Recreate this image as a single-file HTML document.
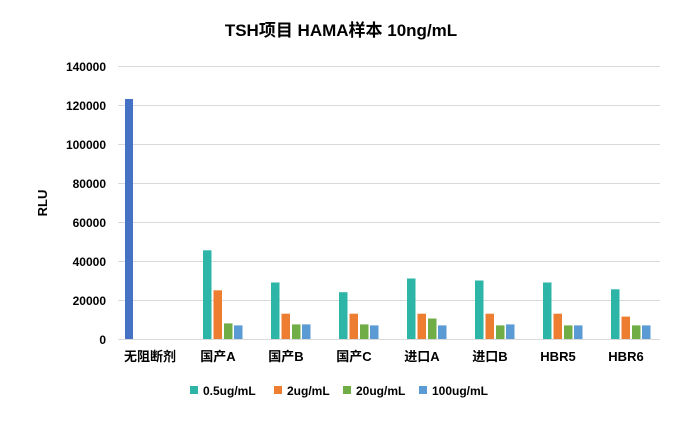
<!DOCTYPE html>
<html><head><meta charset="utf-8"><style>body{margin:0;background:#fff}svg{display:block}text{font-family:"Liberation Sans","Noto Sans CJK SC",sans-serif;fill:#000}</style></head><body>
<svg width="683" height="422" xmlns="http://www.w3.org/2000/svg">
<text x="341" y="36" font-size="17" font-weight="bold" text-anchor="middle">TSH项目 HAMA样本 10ng/mL</text>
<g stroke="#d9d9d9" stroke-width="1">
<line x1="118" x2="660" y1="339.5" y2="339.5"/><line x1="118" x2="660" y1="300.5" y2="300.5"/><line x1="118" x2="660" y1="261.5" y2="261.5"/><line x1="118" x2="660" y1="222.5" y2="222.5"/><line x1="118" x2="660" y1="183.5" y2="183.5"/><line x1="118" x2="660" y1="144.5" y2="144.5"/><line x1="118" x2="660" y1="105.5" y2="105.5"/><line x1="118" x2="660" y1="66.5" y2="66.5"/>
</g>
<g font-size="12" font-weight="bold" text-anchor="end">
<text x="106" y="344">0</text><text x="106" y="305">20000</text><text x="106" y="266">40000</text><text x="106" y="227">60000</text><text x="106" y="188">80000</text><text x="106" y="149">100000</text><text x="106" y="110">120000</text><text x="106" y="71">140000</text>
</g>
<text transform="translate(47,203) rotate(-90)" font-size="13" font-weight="bold" text-anchor="middle">RLU</text>
<rect x="125" y="99" width="8" height="240" fill="#4472c4"/>
<g fill="#2db5a8">
<rect x="203" y="250.3" width="8.5" height="88.7"/>
<rect x="271" y="282.5" width="8.5" height="56.5"/>
<rect x="339" y="292.2" width="8.5" height="46.8"/>
<rect x="407" y="278.5" width="8.5" height="60.5"/>
<rect x="475" y="280.5" width="8.5" height="58.5"/>
<rect x="543" y="282.5" width="8.5" height="56.5"/>
<rect x="611" y="289.3" width="8.5" height="49.7"/>
</g>
<g fill="#ed7d31">
<rect x="213.5" y="290.3" width="8.5" height="48.7"/>
<rect x="281.5" y="313.7" width="8.5" height="25.3"/>
<rect x="349.5" y="313.7" width="8.5" height="25.3"/>
<rect x="417.5" y="313.7" width="8.5" height="25.3"/>
<rect x="485.5" y="313.7" width="8.5" height="25.3"/>
<rect x="553.5" y="313.7" width="8.5" height="25.3"/>
<rect x="621.5" y="316.6" width="8.5" height="22.4"/>
</g>
<g fill="#70ad47">
<rect x="224" y="323.4" width="8.5" height="15.6"/>
<rect x="292" y="324.4" width="8.5" height="14.6"/>
<rect x="360" y="324.4" width="8.5" height="14.6"/>
<rect x="428" y="318.5" width="8.5" height="20.5"/>
<rect x="496" y="325.4" width="8.5" height="13.6"/>
<rect x="564" y="325.4" width="8.5" height="13.6"/>
<rect x="632" y="325.4" width="8.5" height="13.6"/>
</g>
<g fill="#5b9bd5">
<rect x="234" y="325.4" width="8.5" height="13.6"/>
<rect x="302" y="324.4" width="8.5" height="14.6"/>
<rect x="370" y="325.4" width="8.5" height="13.6"/>
<rect x="438" y="325.4" width="8.5" height="13.6"/>
<rect x="506" y="324.4" width="8.5" height="14.6"/>
<rect x="574" y="325.4" width="8.5" height="13.6"/>
<rect x="642" y="325.4" width="8.5" height="13.6"/>
</g>
<g font-size="13" font-weight="bold" text-anchor="middle">
<text x="150" y="361">无阻断剂</text><text x="218" y="361">国产A</text><text x="286" y="361">国产B</text><text x="354" y="361">国产C</text><text x="422" y="361">进口A</text><text x="490" y="361">进口B</text><text x="558" y="361">HBR5</text><text x="626" y="361">HBR6</text>
</g>
<g font-size="12" font-weight="bold">
<rect x="190" y="386" width="8" height="8" fill="#2db5a8"/><text x="203" y="395">0.5ug/mL</text>
<rect x="274" y="386" width="8" height="8" fill="#ed7d31"/><text x="287" y="395">2ug/mL</text>
<rect x="343" y="386" width="8" height="8" fill="#70ad47"/><text x="356" y="395">20ug/mL</text>
<rect x="419" y="386" width="8" height="8" fill="#5b9bd5"/><text x="432" y="395">100ug/mL</text>
</g>
</svg>
</body></html>
